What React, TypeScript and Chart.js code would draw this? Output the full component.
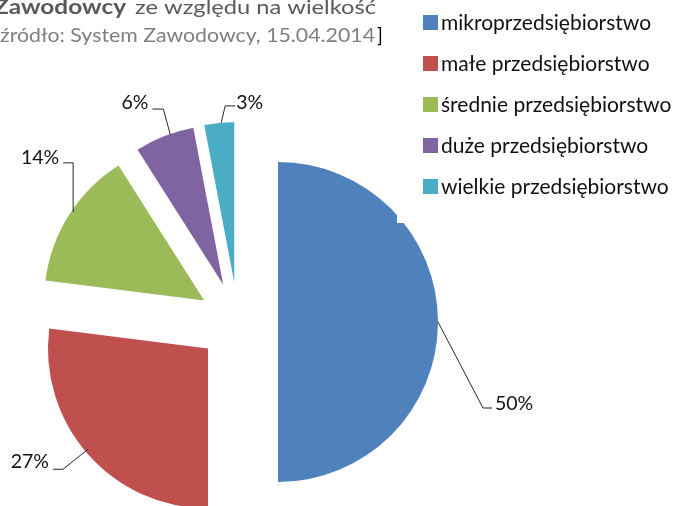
import { useEffect, useRef } from "react";
import { Chart, registerables } from "chart.js";

Chart.register(...registerables);

const categories = [
  "mikroprzedsiębiorstwo",
  "małe przedsiębiorstwo",
  "średnie przedsiębiorstwo",
  "duże przedsiębiorstwo",
  "wielkie przedsiębiorstwo",
];
const shares = [50, 27, 14, 6, 3];
const valueLabels = ["50%", "27%", "14%", "6%", "3%"];
const colors = ["#4F81BD", "#C0504D", "#9BBB59", "#8064A2", "#4BACC6"];
const titleBold = "Zawodowcy";
const titleRest = "ze względu na wielkość";
const sourceText = "źródło: System Zawodowcy, 15.04.2014";

const EXPLODE = 40;
const RADIUS = 160;
const FONT = "Lato, 'Open Sans', sans-serif";

type Pt = [number, number];
const leaderLayout: { start: Pt; elbow: Pt; end: Pt; text: Pt; align: CanvasTextAlign }[] = [
  { start: [0, 0], elbow: [45, 86], end: [54, 86], text: [57, 82], align: "left" },
  { start: [0, -5], elbow: [-25, 15], end: [-35, 15], text: [-39, 7], align: "right" },
  { start: [4, -3], elbow: [4, -52], end: [-6, -52], text: [-10, -57], align: "right" },
  { start: [6, -1], elbow: [-1, -27], end: [-12, -27], text: [-16, -33], align: "right" },
  { start: [2, 0], elbow: [6, -17], end: [16, -17], text: [17, -20], align: "left" },
];

// draw right-aligned text stretched horizontally to span a given width
function stretchedRight(ctx: CanvasRenderingContext2D, text: string, right: number, y: number, width: number) {
  const w = ctx.measureText(text).width;
  const sx = width / w;
  ctx.save();
  ctx.translate(right, y);
  ctx.scale(sx, 1);
  ctx.textAlign = "right";
  ctx.fillText(text, 0, 0);
  ctx.restore();
  return sx;
}

const explodePlugin = {
  id: "explode",
  beforeDatasetDraw(chart: any, args: any) {
    const ctx = chart.ctx;
    args.meta.data.forEach((arc: any) => {
      const mid = (arc.startAngle + arc.endAngle) / 2;
      ctx.save();
      ctx.translate(Math.cos(mid) * EXPLODE, Math.sin(mid) * EXPLODE);
      arc.draw(ctx);
      ctx.restore();
    });
    return false;
  },
};

const decorPlugin = {
  id: "decor",
  afterDraw(chart: any) {
    const ctx: CanvasRenderingContext2D = chart.ctx;
    const meta = chart.getDatasetMeta(0);
    ctx.save();

    // data labels with leader lines
    meta.data.forEach((arc: any, i: number) => {
      const mid = (arc.startAngle + arc.endAngle) / 2;
      const r = arc.outerRadius + EXPLODE;
      const ax = arc.x + Math.cos(mid) * r;
      const ay = arc.y + Math.sin(mid) * r;
      const L = leaderLayout[i];
      ctx.strokeStyle = "#262626";
      ctx.lineWidth = 1;
      ctx.beginPath();
      ctx.moveTo(ax + L.start[0], ay + L.start[1]);
      ctx.lineTo(ax + L.elbow[0], ay + L.elbow[1]);
      ctx.lineTo(ax + L.end[0], ay + L.end[1]);
      ctx.stroke();
      ctx.fillStyle = "#111";
      ctx.font = `19.5px ${FONT}`;
      ctx.textAlign = L.align;
      ctx.textBaseline = "middle";
      ctx.fillText(valueLabels[i], ax + L.text[0], ay + L.text[1]);
    });

    // legend box
    ctx.fillStyle = "#ffffff";
    ctx.fillRect(397, 0, 277, 223);
    categories.forEach((name, i) => {
      const cy = 22.5 + i * 41;
      ctx.fillStyle = colors[i];
      ctx.fillRect(423, cy - 7.5, 15, 15);
      ctx.fillStyle = "#111";
      ctx.font = `21px ${FONT}`;
      ctx.textAlign = "left";
      ctx.textBaseline = "middle";
      ctx.fillText(name, 441, cy + 1);
    });

    // title (partly cropped)
    ctx.textBaseline = "alphabetic";
    ctx.font = `20px ${FONT}`;
    ctx.fillStyle = "#595959";
    stretchedRight(ctx, titleRest, 376, 14, 241);
    ctx.font = `bold 20px ${FONT}`;
    stretchedRight(ctx, titleBold, 126, 14, 132);

    ctx.font = `19px ${FONT}`;
    ctx.fillStyle = "#7f7f7f";
    stretchedRight(ctx, sourceText, 375, 42, 375);
    ctx.fillStyle = "#000";
    ctx.textAlign = "left";
    ctx.fillText("]", 377, 42);
    ctx.restore();
  },
};

export default function App() {
  const ref = useRef<HTMLCanvasElement>(null);
  useEffect(() => {
    if (!ref.current) return;
    const chart = new Chart(ref.current, {
      type: "pie",
      data: {
        labels: categories,
        datasets: [
          {
            data: shares,
            backgroundColor: colors,
            borderWidth: 0,
            offset: 0,
            hoverOffset: 0,
            radius: RADIUS,
          } as any,
        ],
      },
      options: {
        responsive: false,
        animation: false,
        devicePixelRatio: 1,
        events: [],
        layout: { padding: { left: 0, right: 198, top: 0, bottom: 0 } },
        plugins: { legend: { display: false }, tooltip: { enabled: false } },
      },
      plugins: [explodePlugin, decorPlugin],
    });
    return () => chart.destroy();
  }, []);
  return (
    <div
      style={{
        position: "fixed",
        left: 0,
        top: 0,
        width: 674,
        height: 506,
        overflow: "hidden",
        background: "#fff",
      }}
    >
      <canvas ref={ref} width={674} height={644} style={{ position: "absolute", left: 0, top: 0 }} />
    </div>
  );
}
